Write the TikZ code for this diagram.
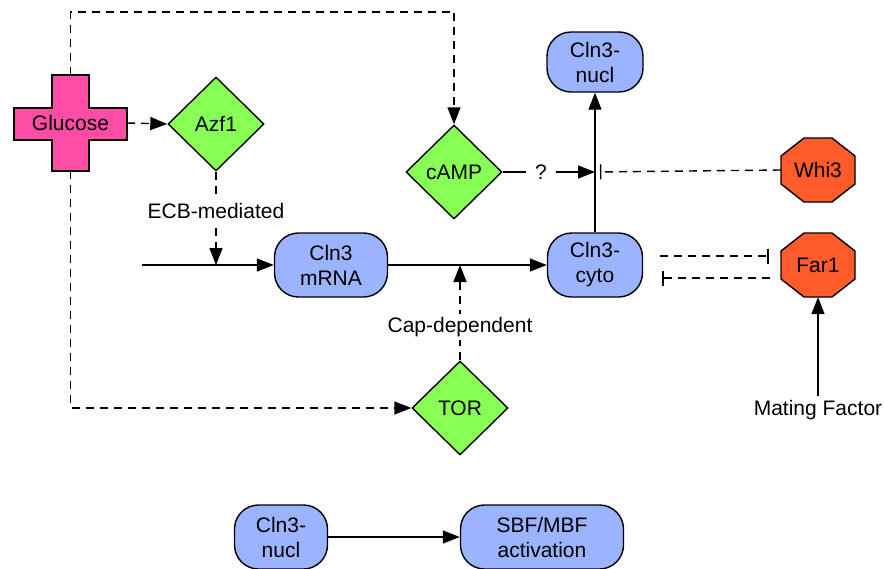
\documentclass[tikz,border=0pt]{standalone}
\usepackage{fontspec}
\setmainfont{Liberation Sans}
\usetikzlibrary{arrows.meta,shapes.geometric,calc}
\definecolor{gpink}{RGB}{255,77,166}
\definecolor{cgreen}{RGB}{136,255,85}
\definecolor{cblue}{RGB}{156,180,255}
\definecolor{corange}{RGB}{255,91,43}
\newcommand\myoct[2]{\filldraw[line width=1.4pt,fill=corange] (#1-14,#2-32) -- (#1+14,#2-32) -- (#1+37,#2-14) -- (#1+37,#2+14) -- (#1+14,#2+32) -- (#1-14,#2+32) -- (#1-37,#2+14) -- (#1-37,#2-14) -- cycle;}
\begin{document}
\begin{tikzpicture}[x=1pt,y=-1pt,
  every node/.style={font=\fontsize{21}{25}\selectfont, inner sep=0pt},
  lw/.style={line width=1.4pt},
  tip/.style={-{Triangle[length=17pt,width=13pt]}},
  dsh/.style={dash pattern=on 8pt off 6pt},
  inh/.style={-{Bar[width=15pt,line width=1.4pt]}},
  blob/.style={draw, line width=1.4pt, fill=cblue, rounded corners=24pt, align=center, minimum height=64pt},
  dia/.style={diamond, draw, line width=1.4pt, fill=cgreen, minimum width=96pt, minimum height=94pt},
  lab/.style={fill=white, inner sep=3pt},
  octnode/.style={minimum width=74pt, minimum height=64pt}
]
\useasboundingbox[fill=white] (0,0) rectangle (884,568);

% Glucose cross
\filldraw[line width=1.4pt, fill=gpink] (52,75) -- (89,75) -- (89,108) -- (127,108) -- (127,140) -- (89,140) -- (89,171) -- (52,171) -- (52,140) -- (14,140) -- (14,108) -- (52,108) -- cycle;
\node[minimum width=113pt, minimum height=96pt] (glucose) at (70.5,123) {Glucose};

% diamonds
\node[dia] (azf1) at (216,124) {Azf1};
\node[dia] (camp) at (454,172) {cAMP};
\node[dia] (tor) at (460,408) {TOR};

% rounded boxes
\node[blob, minimum width=96pt, minimum height=60pt] (nucl) at (595,62) {Cln3-\\nucl};
\node[blob, minimum width=113pt] (mrna) at (331,265) {Cln3\\mRNA};
\node[blob, minimum width=95pt] (cyto) at (595,265) {Cln3-\\cyto};
\node[blob, minimum width=93pt] (nucl2) at (281,537) {Cln3-\\nucl};
\node[blob, minimum width=163pt] (sbf) at (542,537) {SBF/MBF\\activation};

% octagons
\myoct{818}{170}
\node[octnode] (whi3) at (818,170) {Whi3};
\myoct{818}{265}
\node[octnode] (far1) at (818,265) {Far1};

\node (mf) at (818,410) {Mating Factor};
\node[inner xsep=9pt] (q) at (541,172) {?};
\coordinate (in) at (142,265);
\coordinate (j1) at (cyto.north |- camp.east);

% connectors
\draw[lw,dsh,tip] (glucose.east) -- (azf1.west);
\draw[lw,dsh,tip] (glucose.north) -- ++(0,-63) -| (camp.north);
\draw[lw,dsh,tip] (glucose.south) |- (tor.west);
\draw[lw,dsh,tip] (azf1.south) -- node[lab,pos=0.42]{ECB-mediated} (azf1.south |- mrna.west);
\draw[lw,tip] (in) -- (mrna.west);
\draw[lw,tip] (mrna.east) -- (cyto.west);
\draw[lw,dsh,tip] (tor.north) -- node[lab,pos=0.35]{Cap-dependent} (tor.north |- mrna.east);
\draw[lw,tip] (cyto.north) -- (nucl.south);
\draw[lw] (camp.east) -- (q.west);
\draw[lw,tip] (q.east) -- (j1);
\draw[lw,dsh,inh,shorten >=5pt] (whi3.west) -- (j1);
\draw[lw,dsh,inh,shorten <=17pt,shorten >=12pt] ([yshift=9pt]cyto.east) -- ([yshift=9pt]far1.west);
\draw[lw,dsh,inh,shorten <=11pt,shorten >=19pt] ([yshift=-13pt]far1.west) -- ([yshift=-13pt]cyto.east);
\draw[lw,tip,shorten <=4pt] (mf.north) -- (far1.south);
\draw[lw,tip] (nucl2.east) -- (sbf.west);
\end{tikzpicture}
\end{document}
